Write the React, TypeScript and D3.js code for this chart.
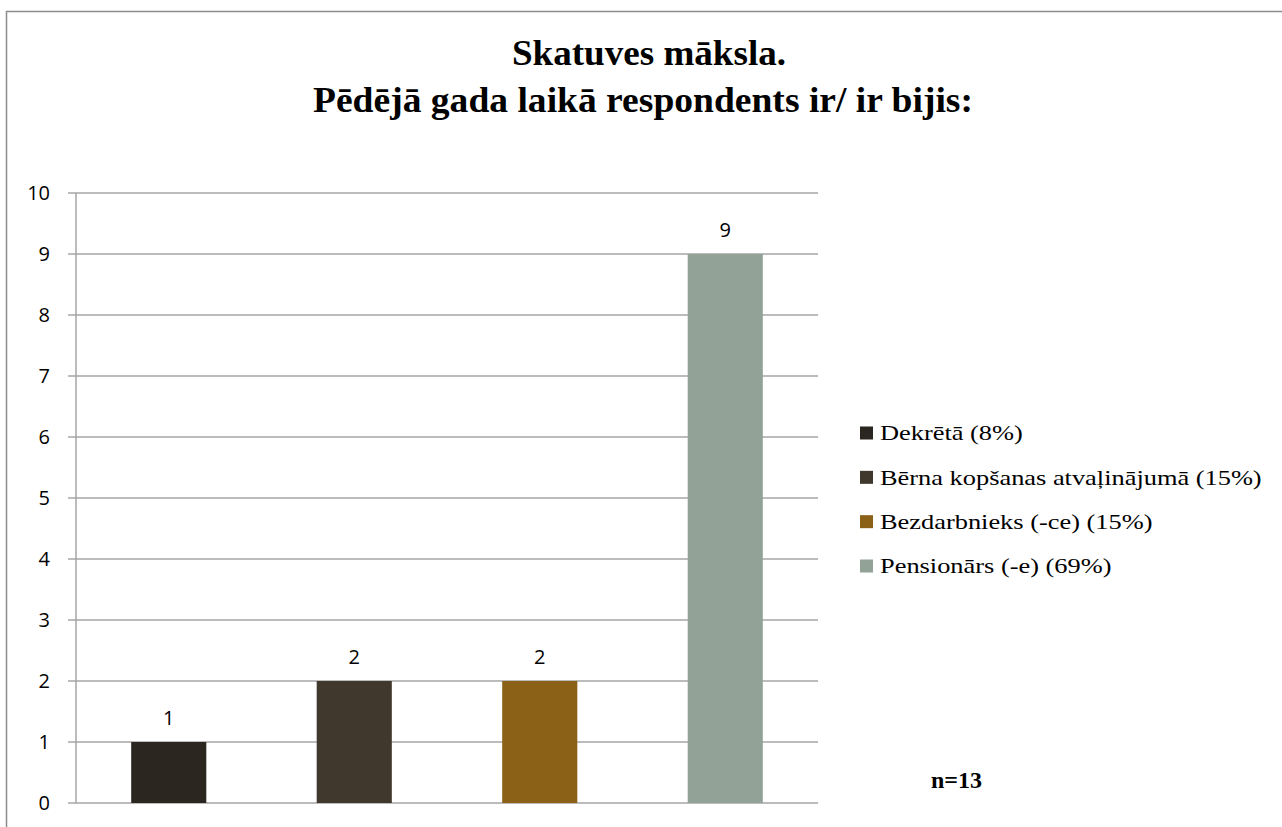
import React from "react";
import * as d3 from "d3";

const categories = [
  "Dekrētā (8%)",
  "Bērna kopšanas atvaļinājumā (15%)",
  "Bezdarbnieks (-ce) (15%)",
  "Pensionārs (-e) (69%)",
];
const values = [1, 2, 2, 9];
const colors = ["#2b261f", "#41382d", "#8a6116", "#92a297"];
const yTicks = [0, 1, 2, 3, 4, 5, 6, 7, 8, 9, 10];
const titleLines = ["Skatuves māksla.", "Pēdējā gada laikā respondents ir/ ir bijis:"];
const note = "n=13";

const W = 1282;
const H = 827;
const plot = { left: 76, right: 818, top: 193, bottom: 803 };

export default function App() {
  const x = d3
    .scaleBand<string>()
    .domain(categories)
    .range([plot.left, plot.right])
    .padding(0);
  const y = d3.scaleLinear().domain([0, 10]).range([plot.bottom, plot.top]);
  const barW = x.bandwidth() * 0.405;
  const grid = "#a6a6a6";
  const sans = "Open Sans, Liberation Sans, sans-serif";
  const serif = "Liberation Serif, DejaVu Serif, serif";
  const legendY = d3.scalePoint<string>().domain(categories).range([433, 566]);

  return (
    <svg
      width={W}
      height={H}
      style={{ position: "absolute", left: 0, top: 0, background: "#fff" }}
    >
      <rect x={6.5} y={11.5} width={1400} height={1000} fill="#fff" stroke="#8c8c8c" strokeWidth={1.5} />
      <text
        x={649}
        y={65}
        textAnchor="middle"
        style={{ fontFamily: serif, fontWeight: "bold", fontSize: 36 }}
        textLength={274}
        lengthAdjust="spacingAndGlyphs"
      >
        {titleLines[0]}
      </text>
      <text
        x={643}
        y={112}
        textAnchor="middle"
        style={{ fontFamily: serif, fontWeight: "bold", fontSize: 36 }}
        textLength={660}
        lengthAdjust="spacingAndGlyphs"
      >
        {titleLines[1]}
      </text>

      {yTicks.map((t) => (
        <g key={t}>
          <line x1={68} x2={plot.right} y1={y(t)} y2={y(t)} stroke={grid} strokeWidth={1.5} />
          <text
            x={50}
            y={y(t)}
            dy="0.36em"
            textAnchor="end"
            style={{ fontFamily: sans, fontSize: 20 }}
            fill="#000"
          >
            {t}
          </text>
        </g>
      ))}
      <line x1={plot.left} x2={plot.left} y1={plot.top} y2={plot.bottom} stroke={grid} strokeWidth={1.5} />

      {categories.map((c, i) => {
        const cx = (x(c) as number) + x.bandwidth() / 2;
        return (
          <g key={c}>
            <rect
              x={cx - barW / 2}
              y={y(values[i])}
              width={barW}
              height={y(0) - y(values[i])}
              fill={colors[i]}
            />
            <text
              x={cx}
              y={y(values[i]) - 17}
              textAnchor="middle"
              style={{ fontFamily: sans, fontSize: 20 }}
              fill="#000"
            >
              {values[i]}
            </text>
          </g>
        );
      })}

      {categories.map((c, i) => (
        <g key={"lg" + c} transform={`translate(860, ${legendY(c)})`}>
          <rect x={0} y={-6.5} width={13} height={13} fill={colors[i]} />
          <text
            transform="translate(20,0) scale(1.2,1)"
            x={0}
            y={0}
            dy="0.33em"
            style={{ fontFamily: serif, fontSize: 22 }}
            fill="#000"
          >
            {c}
          </text>
        </g>
      ))}

      <text x={931} y={788} style={{ fontFamily: serif, fontWeight: "bold", fontSize: 24 }} fill="#000">
        {note}
      </text>
    </svg>
  );
}
